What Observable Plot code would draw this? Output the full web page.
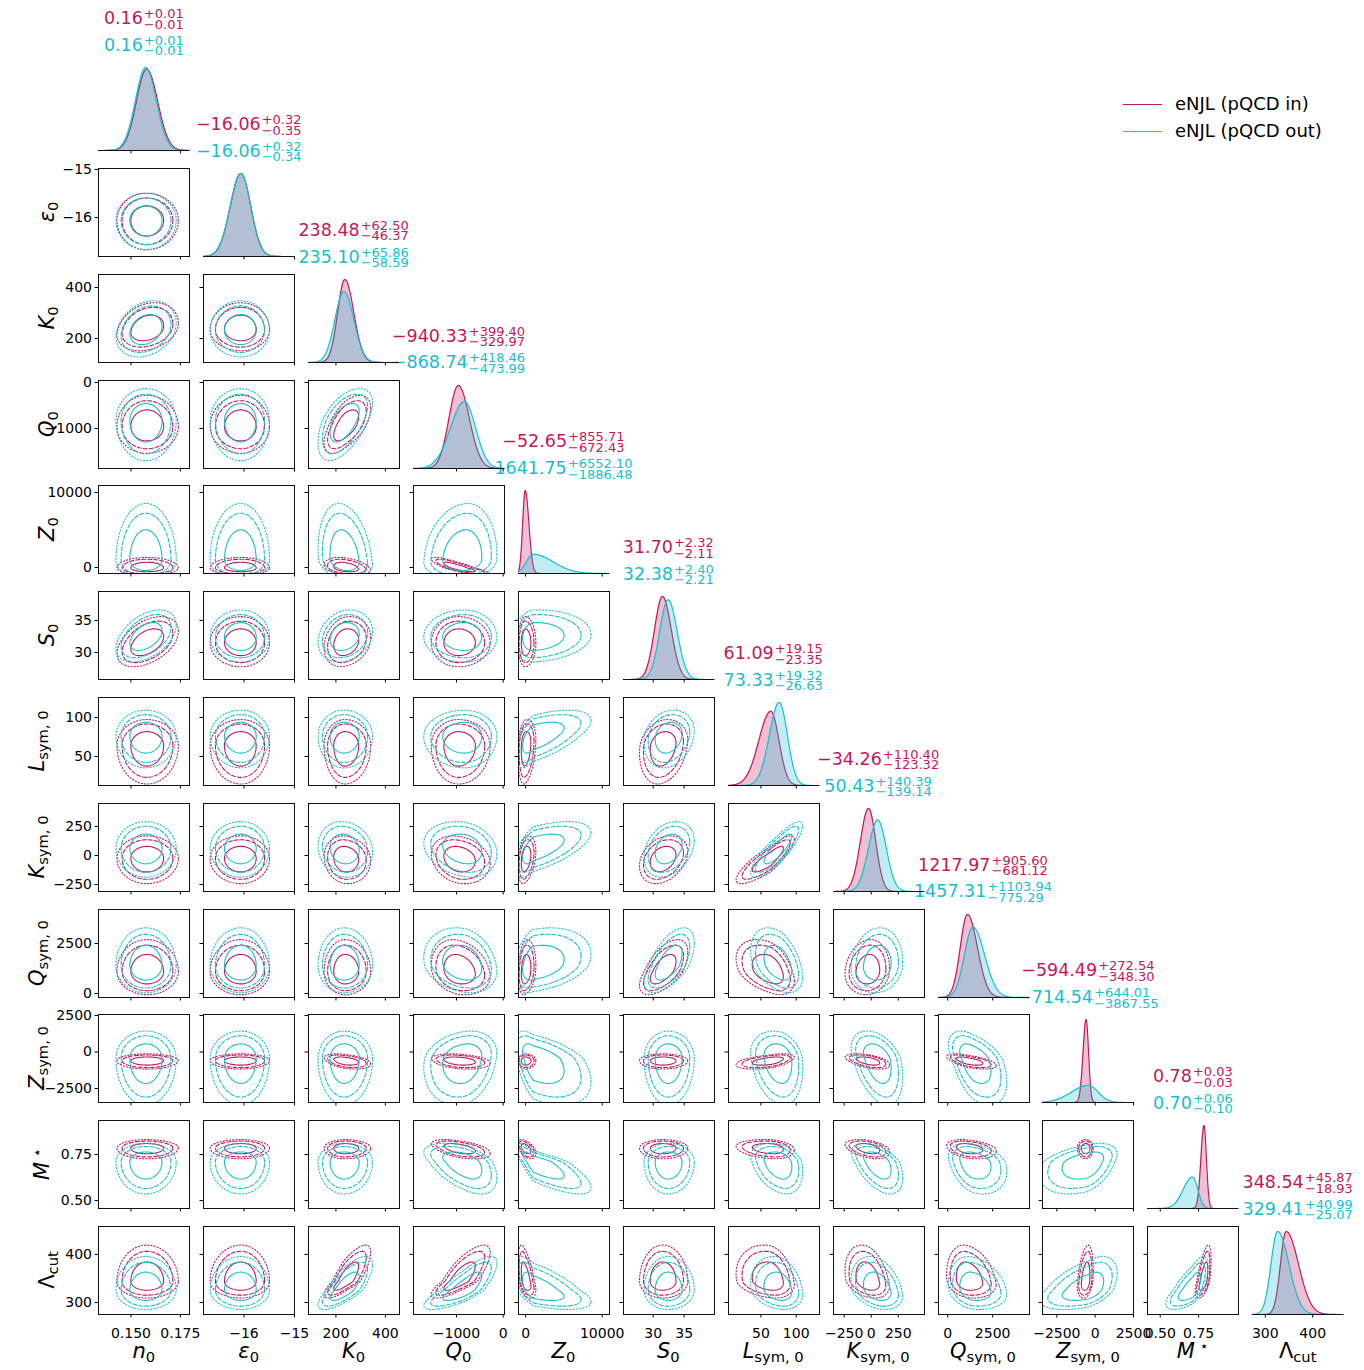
<!DOCTYPE html>
<html><head><meta charset="utf-8">
<script src="https://cdn.jsdelivr.net/npm/d3@7"></script>
<script src="https://cdn.jsdelivr.net/npm/@observablehq/plot@0.6"></script>
<style>
body{margin:0;background:#fff;font-family:"DejaVu Sans",sans-serif;}
#fig{position:relative;width:1364px;height:1370px;overflow:hidden;background:#fff;}
.panel{position:absolute;}
.stat{position:absolute;white-space:nowrap;font-size:17.5px;line-height:20px;transform:translateX(-50%);}
.ss{display:inline-block;vertical-align:-4.5px;font-size:13px;line-height:10.5px;margin-left:1px;}
.ss span{display:block;}
.xl{position:absolute;font-size:21px;line-height:24px;white-space:nowrap;transform:translateX(-50%);}
.yl{position:absolute;font-size:21px;line-height:24px;white-space:nowrap;transform:translate(-50%,-50%) rotate(-90deg);}
.xl sub,.yl sub{font-size:70%;vertical-align:-0.3em;line-height:0;}
.xl sup,.yl sup{font-size:70%;vertical-align:0.45em;line-height:0;}
.leg{position:absolute;font-size:18px;line-height:20px;white-space:nowrap;}
.legline{position:absolute;height:0;border-top:1.1px solid;}
</style></head>
<body><div id="fig"></div>
<script>
// ---------------- data ----------------
const axisLabels = ["<i>n</i><sub>0</sub>","<i>ε</i><sub>0</sub>","<i>K</i><sub>0</sub>","<i>Q</i><sub>0</sub>","<i>Z</i><sub>0</sub>","<i>S</i><sub>0</sub>",
  "<i>L</i><sub>sym, 0</sub>","<i>K</i><sub>sym, 0</sub>","<i>Q</i><sub>sym, 0</sub>","<i>Z</i><sub>sym, 0</sub>","<i>M</i><sup> ⋆</sup>","Λ<sub>cut</sub>"];
const tickValues = [[0.150,0.175],[-16,-15],[200,400],[-1000,0],[0,10000],[30,35],[50,100],[-250,0,250],[0,2500],[-2500,0,2500],[0.50,0.75],[300,400]];
const tickLabels = [["0.150","0.175"],["−16","−15"],["200","400"],["−1000","0"],["0","10000"],["30","35"],["50","100"],["−250","0","250"],["0","2500"],["−2500","0","2500"],["0.50","0.75"],["300","400"]];
const xDomains = [[0.1336,0.1796],[-16.80,-15.0],[89,457],[-1920,28],[-926,10950],[25.2,39.9],[4,133],[-349,493],[-511,4546],[-3434,2500],[0.417,1.01],[273,465]];
const yDomains = [[0.1336,0.1796],[-16.81,-14.98],[106,451],[-1870,43],[-800,10930],[25.8,39.5],[12.8,125.6],[-310,448],[-200,4200],[-3459,2568],[0.457,0.935],[275,458]];

const medInTxt   = ["0.16","−16.06","238.48","−940.33","−52.65","31.70","61.09","−34.26","1217.97","−594.49","0.78","348.54"];
const plusInTxt  = ["+0.01","+0.32","+62.50","+399.40","+855.71","+2.32","+19.15","+110.40","+905.60","+272.54","+0.03","+45.87"];
const minusInTxt = ["−0.01","−0.35","−46.37","−329.97","−672.43","−2.11","−23.35","−123.32","−681.12","−348.30","−0.03","−18.93"];
const medOutTxt   = ["0.16","−16.06","235.10","−868.74","1641.75","32.38","73.33","50.43","1457.31","−714.54","0.70","329.41"];
const plusOutTxt  = ["+0.01","+0.32","+65.86","+418.46","+6552.10","+2.40","+19.32","+140.39","+1103.94","+644.01","+0.06","+40.99"];
const minusOutTxt = ["−0.01","−0.34","−58.59","−473.99","−1886.48","−2.21","−26.63","−139.14","−775.29","−3867.55","−0.10","−25.07"];

// marginal shapes: mode, left width, right width
const modeIn  = [0.158,-16.06,236,-960,-50,31.5,64,-25,1100,-590,0.785,344];
const sigLIn  = [0.0052,0.21,29,200,330,1.28,17,75,400,200,0.02,12];
const sigRIn  = [0.0055,0.195,36,235,480,1.41,11.5,67,550,160,0.016,26];
const modeOut = [0.1575,-16.06,232,-830,1000,32.4,76,60,1400,-450,0.71,326];
const sigLOut = [0.0052,0.21,36,300,900,1.34,14,85,470,1100,0.06,14];
const sigROut = [0.0053,0.195,40,240,2600,1.46,11.5,80,650,650,0.035,24];

// pairwise correlations (row i, column j<i)
const rhoIn = [[],[0],[0.25,0],[0,0,0.6],[0,0,-0.3,-0.85],[0.45,0,0.2,0,0],[0,0,0,0,0.2,0.2],
  [0,0,-0.1,-0.2,0.3,0.3,0.85],[0,0,0,-0.2,0.2,0.6,-0.4,0.1],[0,0,-0.4,-0.3,0,0,0.5,-0.5,-0.6],
  [0,0,0,-0.5,-0.5,0,-0.2,-0.4,-0.3,0],[0,0,0.8,0.8,-0.5,0,-0.2,-0.3,-0.2,0.3,0.6]];
const rhoOut = [[],[0],[0.25,0],[0,0,0.55],[0,0,-0.2,0.1],[0.45,0,0.2,0,0.1],[0,0,0,0,0.6,0.2],
  [0,0,-0.1,-0.2,0.6,0.3,0.85],[0,0,0,-0.2,0.3,0.6,-0.4,0.1],[0,0,0,0.2,-0.5,0,-0.2,-0.4,-0.5],
  [0,0,0,-0.5,-0.8,0,-0.3,-0.5,-0.3,0.4],[0,0,0.75,0.8,-0.6,0,-0.2,-0.3,-0.2,0.5,0.7]];

const levels = [1.55, 2.4, 2.9];
const dashes = [null, "4,2", "1.2,2"];
const seriesNames = ["eNJL (pQCD in)","eNJL (pQCD out)"];
const colors = ["#c2185b","#17becf"];

// ---------------- layout ----------------
const N = 12, X0 = 98.3, DX = 104.9, Y0 = 62.2, DY = 105.8, W = 91, H = 88;
const fig = document.getElementById("fig");

const series = [
  {mode: modeIn, sl: sigLIn, sr: sigRIn, rho: rhoIn, color: colors[0]},
  {mode: modeOut, sl: sigLOut, sr: sigROut, rho: rhoOut, color: colors[1]}
];
function dens(x, m, l, r) {
  const s = x < m ? l : r;
  return Math.exp(-0.5 * ((x - m) / s) ** 2) * 2 / (Math.sqrt(2 * Math.PI) * (l + r));
}
function ellipse(s, i, j, r) {
  const rho = s.rho[i][j], q = Math.sqrt(1 - rho * rho);
  const pts = [];
  for (let k = 0; k <= 120; k++) {
    const t = 2 * Math.PI * k / 120;
    const u = r * Math.cos(t), v = r * (rho * Math.cos(t) + q * Math.sin(t));
    pts.push({x: s.mode[j] + u * (u < 0 ? s.sl[j] : s.sr[j]), y: s.mode[i] + v * (v < 0 ? s.sl[i] : s.sr[i])});
  }
  return pts;
}
const fmt = k => (v => { const idx = tickValues[k].findIndex(t => Math.abs(t - v) < 1e-9); return idx >= 0 ? tickLabels[k][idx] : ""; });
const blank = () => "";

// stats labels (drawn first so panels sit on top)
for (let i = 0; i < N; i++) {
  const cx = X0 + DX * i + W / 2, top = Y0 + DY * i;
  [[medInTxt, plusInTxt, minusInTxt, colors[0], top - 38], [medOutTxt, plusOutTxt, minusOutTxt, colors[1], top - 11.3]].forEach(([m, p, n, c, base]) => {
    const d = document.createElement("div");
    d.className = "stat";
    d.style.left = cx + "px"; d.style.top = (base - 16) + "px"; d.style.color = c;
    d.innerHTML = `${m[i]}<span class="ss"><span>${p[i]}</span><span>${n[i]}</span></span>`;
    fig.appendChild(d);
  });
}

function panel(i, j) {
  const left = X0 + DX * j, top = Y0 + DY * i;
  const xd = xDomains[j];
  const marks = [];
  let yopt;
  if (i === j) {
    const xs = d3.range(301).map(k => xd[0] + (xd[1] - xd[0]) * k / 300);
    const curves = series.map(s => xs.map(x => ({x, y: dens(x, s.mode[i], s.sl[i], s.sr[i])})));
    const ymax = d3.max(curves.flat(), d => d.y);
    yopt = {domain: [0, ymax * 1.06], axis: null};
    curves.forEach((c, k) => {
      marks.push(Plot.areaY(c, {x: "x", y: "y", fill: series[k].color, fillOpacity: 0.27}));
      marks.push(Plot.lineY(c, {x: "x", y: "y", stroke: series[k].color, strokeWidth: 1.2}));
    });
    marks.push(Plot.ruleY([0], {stroke: "#111", strokeWidth: 1}));
  } else {
    yopt = {domain: yDomains[i]};
    series.forEach(s => {
      levels.forEach((r, li) => {
        marks.push(Plot.line(ellipse(s, i, j, r), {x: "x", y: "y", stroke: s.color, strokeWidth: 1.1,
          strokeDasharray: dashes[li] || undefined, clip: true}));
      });
    });
    marks.push(Plot.frame({stroke: "#111", strokeWidth: 1}));
    marks.push(Plot.axisY({ticks: tickValues[i], tickFormat: j === 0 ? fmt(i) : blank, tickSize: 3.5, tickPadding: 3, label: null, anchor: "left"}));
  }
  marks.push(Plot.axisX({ticks: tickValues[j], tickFormat: i === N - 1 ? fmt(j) : blank, tickSize: 3.5, tickPadding: 10, label: null, anchor: "bottom"}));
  const svg = Plot.plot({
    width: W, height: H, margin: 0,
    x: {domain: xd}, y: yopt,
    style: {background: "transparent", overflow: "visible", fontFamily: "DejaVu Sans, sans-serif", fontSize: "14px", color: "#000"},
    marks
  });
  const wrap = document.createElement("div");
  wrap.className = "panel";
  wrap.style.left = left + "px"; wrap.style.top = top + "px";
  wrap.appendChild(svg);
  fig.appendChild(wrap);
}
for (let i = 0; i < N; i++) for (let j = 0; j <= i; j++) panel(i, j);

// axis labels
for (let k = 0; k < N; k++) {
  const b = document.createElement("div");
  b.className = "xl"; b.innerHTML = axisLabels[k];
  b.style.left = (X0 + DX * k + W / 2) + "px"; b.style.top = "1339px";
  fig.appendChild(b);
  if (k > 0) {
    const l = document.createElement("div");
    l.className = "yl"; l.innerHTML = axisLabels[k];
    const deep = axisLabels[k].includes("sym"), sup = axisLabels[k].includes("sup>");
    l.style.left = (deep ? 37 : sup ? 42 : 47) + "px"; l.style.top = (Y0 + DY * k + H / 2) + "px";
    fig.appendChild(l);
  }
}
// legend
seriesNames.forEach((name, k) => {
  const y = 104 + 27 * k;
  const ln = document.createElement("div");
  ln.className = "legline"; ln.style.left = "1123px"; ln.style.width = "39px"; ln.style.top = y + "px"; ln.style.borderColor = colors[k];
  fig.appendChild(ln);
  const t = document.createElement("div");
  t.className = "leg"; t.textContent = name; t.style.left = "1175px"; t.style.top = (y - 10) + "px";
  fig.appendChild(t);
});
</script></body></html>
